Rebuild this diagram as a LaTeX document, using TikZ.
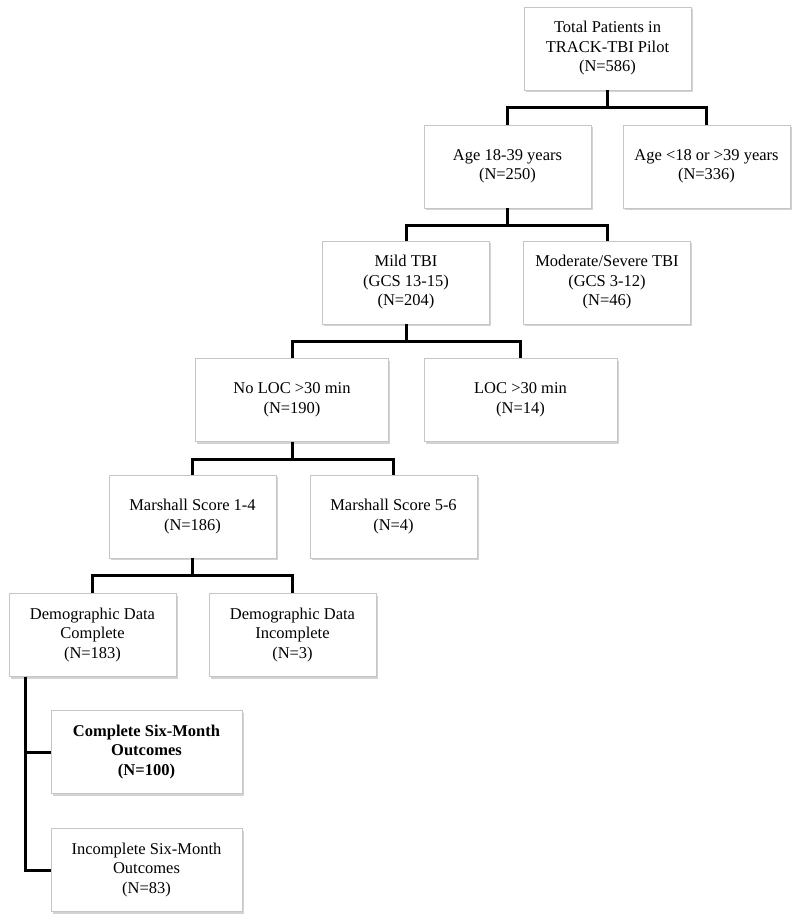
\documentclass[tikz,border=0pt]{standalone}
\usepackage{fontspec}
\setmainfont{Liberation Serif}
\usetikzlibrary{shadows}

\begin{document}
\begin{tikzpicture}[x=1pt, y=-1pt,
    every node/.style = {shape=rectangle, draw=gray!45, fill=white, align=center,
                         minimum width=167pt, minimum height=83pt, inner sep=2pt,
                         font=\fontsize{16.5}{19.5}\selectfont,
                         drop shadow={opacity=0.35, shadow xshift=1.5pt, shadow yshift=-2pt}},
    wide/.style = {minimum width=193pt},
    link/.style = {line width=3pt, black}]
    \useasboundingbox (0,0) rectangle (800,923);

    \node (total)  at (607.5, 48.5) {Total Patients in\\TRACK-TBI Pilot\\(N=586)};
    \node (age)    at (507.5,166.5) {Age 18-39 years\\(N=250)};
    \node (ageout) at (706.5,166.5) {Age <18 or >39 years\\(N=336)};
    \node (mild)   at (406,282.5)   {Mild TBI\\(GCS 13-15)\\(N=204)};
    \node (modsev) at (607,282.5)   {Moderate/Severe TBI\\(GCS 3-12)\\(N=46)};
    \node[wide] (noloc) at (292,400)   {No LOC >30 min\\(N=190)};
    \node[wide] (loc)   at (520.5,400) {LOC >30 min\\(N=14)};
    \node (mlow)   at (192.5,516.5) {Marshall Score 1-4\\(N=186)};
    \node (mhigh)  at (393.5,516.5) {Marshall Score 5-6\\(N=4)};
    \node (democ)  at (92.5,635)    {Demographic Data\\Complete\\(N=183)};
    \node (demoi)  at (292.5,635)   {Demographic Data\\Incomplete\\(N=3)};
    \node[minimum width=191pt] (outc) at (146.5,752)
        {\bfseries Complete Six-Month\\\bfseries Outcomes\\\bfseries (N=100)};
    \node[minimum width=191pt] (outi) at (146.5,870)
        {Incomplete Six-Month\\Outcomes\\(N=83)};

    % splits
    \foreach \p/\a/\b in {total/age/ageout, age/mild/modsev, mild/noloc/loc,
                          noloc/mlow/mhigh, mlow/democ/demoi}
        \draw[link] (\p.south) -- ++(0,17.5) coordinate (m)
                    (\a.north) |- (m) -| (\b.north);

    % outcomes
    \draw[link] ([xshift=17pt]democ.south west) |- (outc.west);
    \draw[link] ([xshift=17pt]democ.south west) |- (outi.west);
\end{tikzpicture}
\end{document}
